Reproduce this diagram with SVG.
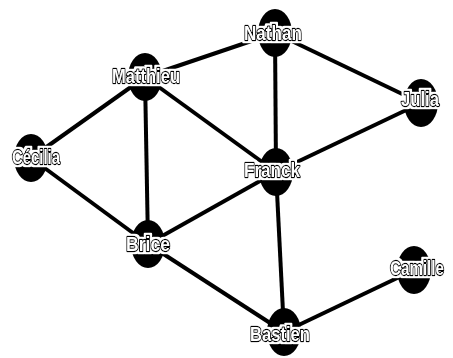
<svg xmlns="http://www.w3.org/2000/svg" width="453" height="358" viewBox="0 0 453 358">
<defs>
<filter id="halo" x="-20%" y="-30%" width="140%" height="160%">
<feMorphology in="SourceAlpha" operator="dilate" radius="1.5" result="d"/>
<feFlood flood-color="#fff"/>
<feComposite in2="d" operator="in" result="w"/>
<feMerge><feMergeNode in="w"/><feMergeNode in="SourceGraphic"/></feMerge>
</filter>
</defs>
<style>
.node ellipse{fill:#000}
.node text{font-family:"Liberation Sans",Arial,sans-serif;font-weight:bold;font-size:21px;fill:#fff;stroke:#000;stroke-width:2.4px;paint-order:stroke;stroke-linejoin:round;text-anchor:middle;filter:url(#halo)}
#edges line{stroke:#000;stroke-width:4}
</style>
<rect width="453" height="358" fill="#fff"/>
<g id="edges">
<line x1="275" y1="33" x2="145" y2="77"/>
<line x1="275" y1="33" x2="276" y2="172"/>
<line x1="275" y1="33" x2="421" y2="103"/>
<line x1="145" y1="77" x2="31" y2="158"/>
<line x1="145" y1="77" x2="148" y2="244"/>
<line x1="145" y1="77" x2="276" y2="172"/>
<line x1="31" y1="158" x2="148" y2="244"/>
<line x1="276" y1="172" x2="421" y2="103"/>
<line x1="276" y1="172" x2="148" y2="244"/>
<line x1="276" y1="172" x2="284" y2="332"/>
<line x1="148" y1="244" x2="284" y2="332"/>
<line x1="284" y1="332" x2="414" y2="270"/>
</g>
<g id="n-nathan" class="node"><ellipse cx="275" cy="33" rx="17" ry="24"/><text x="273" y="40" textLength="58" lengthAdjust="spacingAndGlyphs">Nathan</text></g>
<g id="n-matthieu" class="node"><ellipse cx="145" cy="77" rx="17" ry="24"/><text x="146" y="83" textLength="68" lengthAdjust="spacingAndGlyphs">Matthieu</text></g>
<g id="n-cecilia" class="node"><ellipse cx="31" cy="158" rx="17" ry="24"/><text x="36" y="164" textLength="48" lengthAdjust="spacingAndGlyphs">Cécilia</text></g>
<g id="n-franck" class="node"><ellipse cx="276" cy="172" rx="17" ry="24"/><text x="272" y="177" textLength="56" lengthAdjust="spacingAndGlyphs">Franck</text></g>
<g id="n-brice" class="node"><ellipse cx="148" cy="244" rx="17" ry="24"/><text x="148" y="251" textLength="44" lengthAdjust="spacingAndGlyphs">Brice</text></g>
<g id="n-bastien" class="node"><ellipse cx="284" cy="332" rx="17" ry="24"/><text x="280" y="341" textLength="60" lengthAdjust="spacingAndGlyphs">Bastien</text></g>
<g id="n-camille" class="node"><ellipse cx="414" cy="270" rx="17" ry="24"/><text x="417" y="275" textLength="54" lengthAdjust="spacingAndGlyphs">Camille</text></g>
<g id="n-julia" class="node"><ellipse cx="421" cy="103" rx="17" ry="24"/><text x="420" y="106" textLength="38" lengthAdjust="spacingAndGlyphs">Julia</text></g>
</svg>
